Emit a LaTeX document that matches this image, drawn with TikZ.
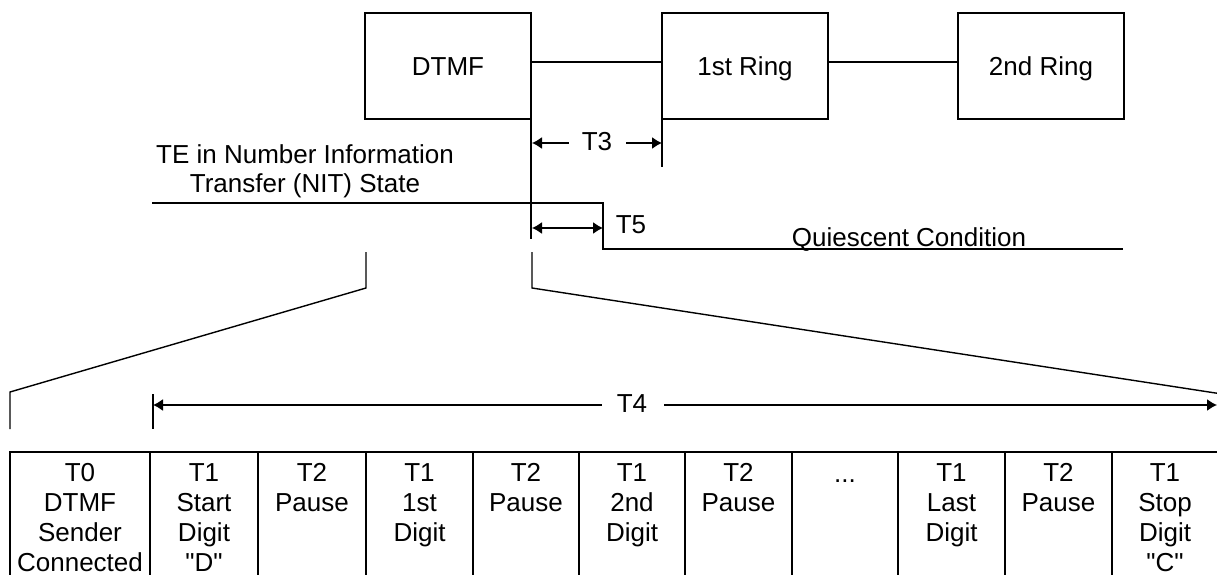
\documentclass[tikz,border=0pt]{standalone}
\usepackage{fontspec}
\setmainfont{Liberation Sans}[Ligatures=TeXOff]
\usetikzlibrary{arrows.meta,calc}
\begin{document}
\begin{tikzpicture}[x=1pt,y=-1pt,
  ln/.style={line width=1.4pt},
  thickdiv/.style={line width=2.6pt},
  bx/.style={draw,line width=1.4pt,minimum width=166pt,minimum height=106pt,inner sep=0pt,outer sep=0pt,text height=19pt,text depth=0pt,font=\fontsize{26}{30}\selectfont},
  lbl/.style={inner sep=0pt,outer sep=0pt,anchor=base,font=\fontsize{26}{30}\selectfont},
  ctext/.style={inner sep=0pt,outer sep=0pt,anchor=north,align=center,font=\fontsize{26}{30}\selectfont},
  tip/.style={-{Latex[length=10pt,width=12pt]}},
  dtip/.style={{Latex[length=10pt,width=12pt]}-{Latex[length=10pt,width=12pt]}}
]
\useasboundingbox (0,0) rectangle (1217,575);
\fill[white] (0,0) rectangle (1217,575);

% top boxes
\node[bx] (dtmf) at (448,66) {DTMF};
\node[bx] (ring1) at (745,66) {1st Ring};
\node[bx] (ring2) at (1041,66) {2nd Ring};
\draw[ln] ([yshift=4pt]dtmf.east) -- ([yshift=4pt]ring1.west);
\draw[ln] ([yshift=4pt]ring1.east) -- ([yshift=4pt]ring2.west);

% timing verticals
\coordinate (vA) at (532,239);
\coordinate (vB) at (662,167);
\draw[ln] (dtmf.south east) -- (dtmf.south east |- vA);
\draw[ln] (ring1.south west) -- (vB);

% T3
\coordinate (t3a) at (532,143);
\coordinate (t3b) at (662,143);
\node[lbl] (t3) at (597,150) {T3};
\draw[ln,tip] ([xshift=-13pt]t3.west |- t3a) -- (t3a);
\draw[ln,tip] ([xshift=14pt]t3.east |- t3b) -- (t3b);

% NIT state text and line
\node[ctext,font=\fontsize{26}{29}\selectfont] (nit) at (305,144.2) {TE in Number Information\\Transfer (NIT) State};
\coordinate (nitL) at (152,203);
\coordinate (stepT) at (603,203);
\coordinate (stepB) at (603,249);
\coordinate (qR) at (1123,249);
\draw[ln] (nitL) -- (stepT) -- (stepB) -- (qR);

% T5
\coordinate (t5a) at (532,228);
\coordinate (t5b) at (603,228);
\draw[ln,dtip] (t5a) -- (t5b);
\node[lbl] (t5) at (631,233) {T5};

% Quiescent
\node[lbl] (quiet) at (909,246) {Quiescent Condition};

% expansion brackets
\coordinate (bl1) at (366,252);
\coordinate (bl2) at (366,288);
\coordinate (bl3) at (10,392);
\coordinate (bl4) at (10,429);
\draw[ln] (bl1) -- (bl2) -- (bl3) -- (bl4);
\coordinate (br1) at (532,252);
\coordinate (br2) at (532,288);
\coordinate (br3) at (1222,394);
\draw[ln] (br1) -- (br2) -- (br3);

% T4
\coordinate (t4a) at (153,405);
\coordinate (t4b) at (1217,405);
\draw[ln] (153,394) -- (153,429);
\node[lbl] (t4) at (632,412) {T4};
\draw[ln,tip] ([xshift=-15pt]t4.west |- t4a) -- (t4a);
\draw[ln,tip] ([xshift=17pt]t4.east |- t4b) -- (t4b);

% bottom row frame
\draw[ln] (10,585) -- (10,452) -- (1230,452);
\foreach \x in {150,258,473,579,685,792,898,1112}
  \draw[thickdiv] (\x,452) -- (\x,585);
\foreach \x in {366,1005}
  \draw[ln] (\x,452) -- (\x,585);
\draw[ln] (1218,452) -- (1218,585);

% bottom row texts
\node[ctext] (c0) at (80,463.4) {T0\\DTMF\\Sender\\Connected};
\node[ctext] (c1) at (204,463.4) {T1\\Start\\Digit\\"D"};
\node[ctext] (c2) at (312,463.4) {T2\\Pause};
\node[ctext] (c3) at (419.5,463.4) {T1\\1st\\Digit};
\node[ctext] (c4) at (526,463.4) {T2\\Pause};
\node[ctext] (c5) at (632,463.4) {T1\\2nd\\Digit};
\node[ctext] (c6) at (738.5,463.4) {T2\\Pause};
\node[lbl] (c7) at (845,482) {...};
\node[ctext] (c8) at (951.5,463.4) {T1\\Last\\Digit};
\node[ctext] (c9) at (1058.5,463.4) {T2\\Pause};
\node[ctext] (c10) at (1165,463.4) {T1\\Stop\\Digit\\"C"};
\end{tikzpicture}
\end{document}
